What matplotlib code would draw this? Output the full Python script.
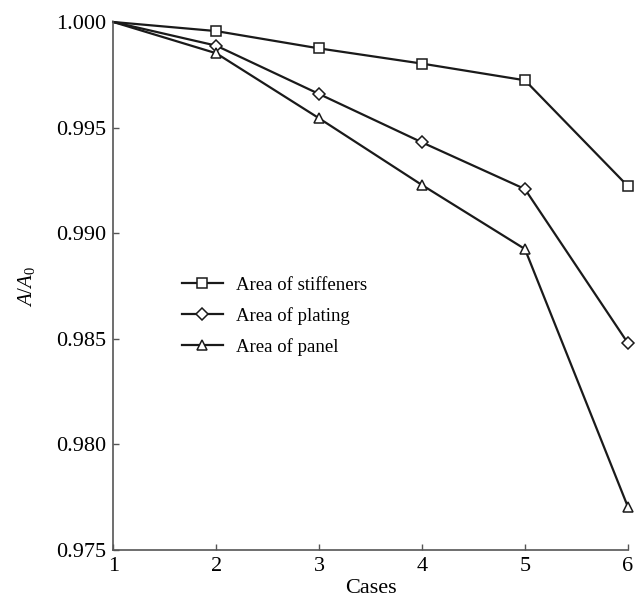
import matplotlib
matplotlib.use('Agg')
import matplotlib.pyplot as plt
from matplotlib.lines import Line2D

# datos
cases = [1, 2, 3, 4, 5, 6]
stiffeners = [1.0, 0.99957, 0.99875, 0.99803, 0.99724, 0.99223]
plating = [1.0, 0.99888, 0.99659, 0.99430, 0.99209, 0.98480]
panel = [1.0, 0.99852, 0.99544, 0.99228, 0.98925, 0.97705]
labels = ['Area of stiffeners', 'Area of plating', 'Area of panel']
yticks = [0.975, 0.980, 0.985, 0.990, 0.995, 1.000]

plt.rcParams['font.family'] = ['Liberation Serif', 'DejaVu Serif']
plt.rcParams['mathtext.fontset'] = 'custom'
plt.rcParams['mathtext.it'] = 'Liberation Serif:italic'
plt.rcParams['mathtext.rm'] = 'Liberation Serif'

fig = plt.figure(figsize=(6.4, 6.06), dpi=100)
ax = fig.add_axes([0.177, 0.0924, 0.804, 0.8713])

marcadores = [('s', 7), ('D', 6), ('^', 7)]
handles = []
for serie, (m, ms), lab in zip([stiffeners, plating, panel], marcadores, labels):
    estilo = dict(color='#1a1a1a', lw=1.6, marker=m, ms=ms, mfc='white',
                  mec='#1a1a1a', mew=1.1)
    ax.plot(cases, serie, markevery=range(1, 6), clip_on=False, **estilo)
    handles.append(Line2D([], [], label=lab, **estilo))

ax.set_xlim(1, 6)
ax.set_ylim(0.975, 1.0)
ax.set_xticks(cases)
ax.set_yticks(yticks)
ax.set_yticklabels(['%.3f' % v for v in yticks])
ax.tick_params(direction='in', length=4, width=1, color='#555555',
               labelsize=16, pad=5)

for s in ['top', 'right']:
    ax.spines[s].set_visible(False)
for s in ['left', 'bottom']:
    ax.spines[s].set_color('#555555')
    ax.spines[s].set_linewidth(1.2)

ax.set_xlabel('Cases', fontsize=16, labelpad=2)
ax.set_ylabel(r'$A/A_{\rm 0}$', fontsize=15, labelpad=14)

ax.legend(handles=handles, loc='upper left', bbox_to_anchor=(0.1, 0.55),
          frameon=False, fontsize=13.5, handlelength=2.2, handletextpad=0.7,
          labelspacing=0.7, numpoints=1)

plt.savefig('out.png', dpi=100)
